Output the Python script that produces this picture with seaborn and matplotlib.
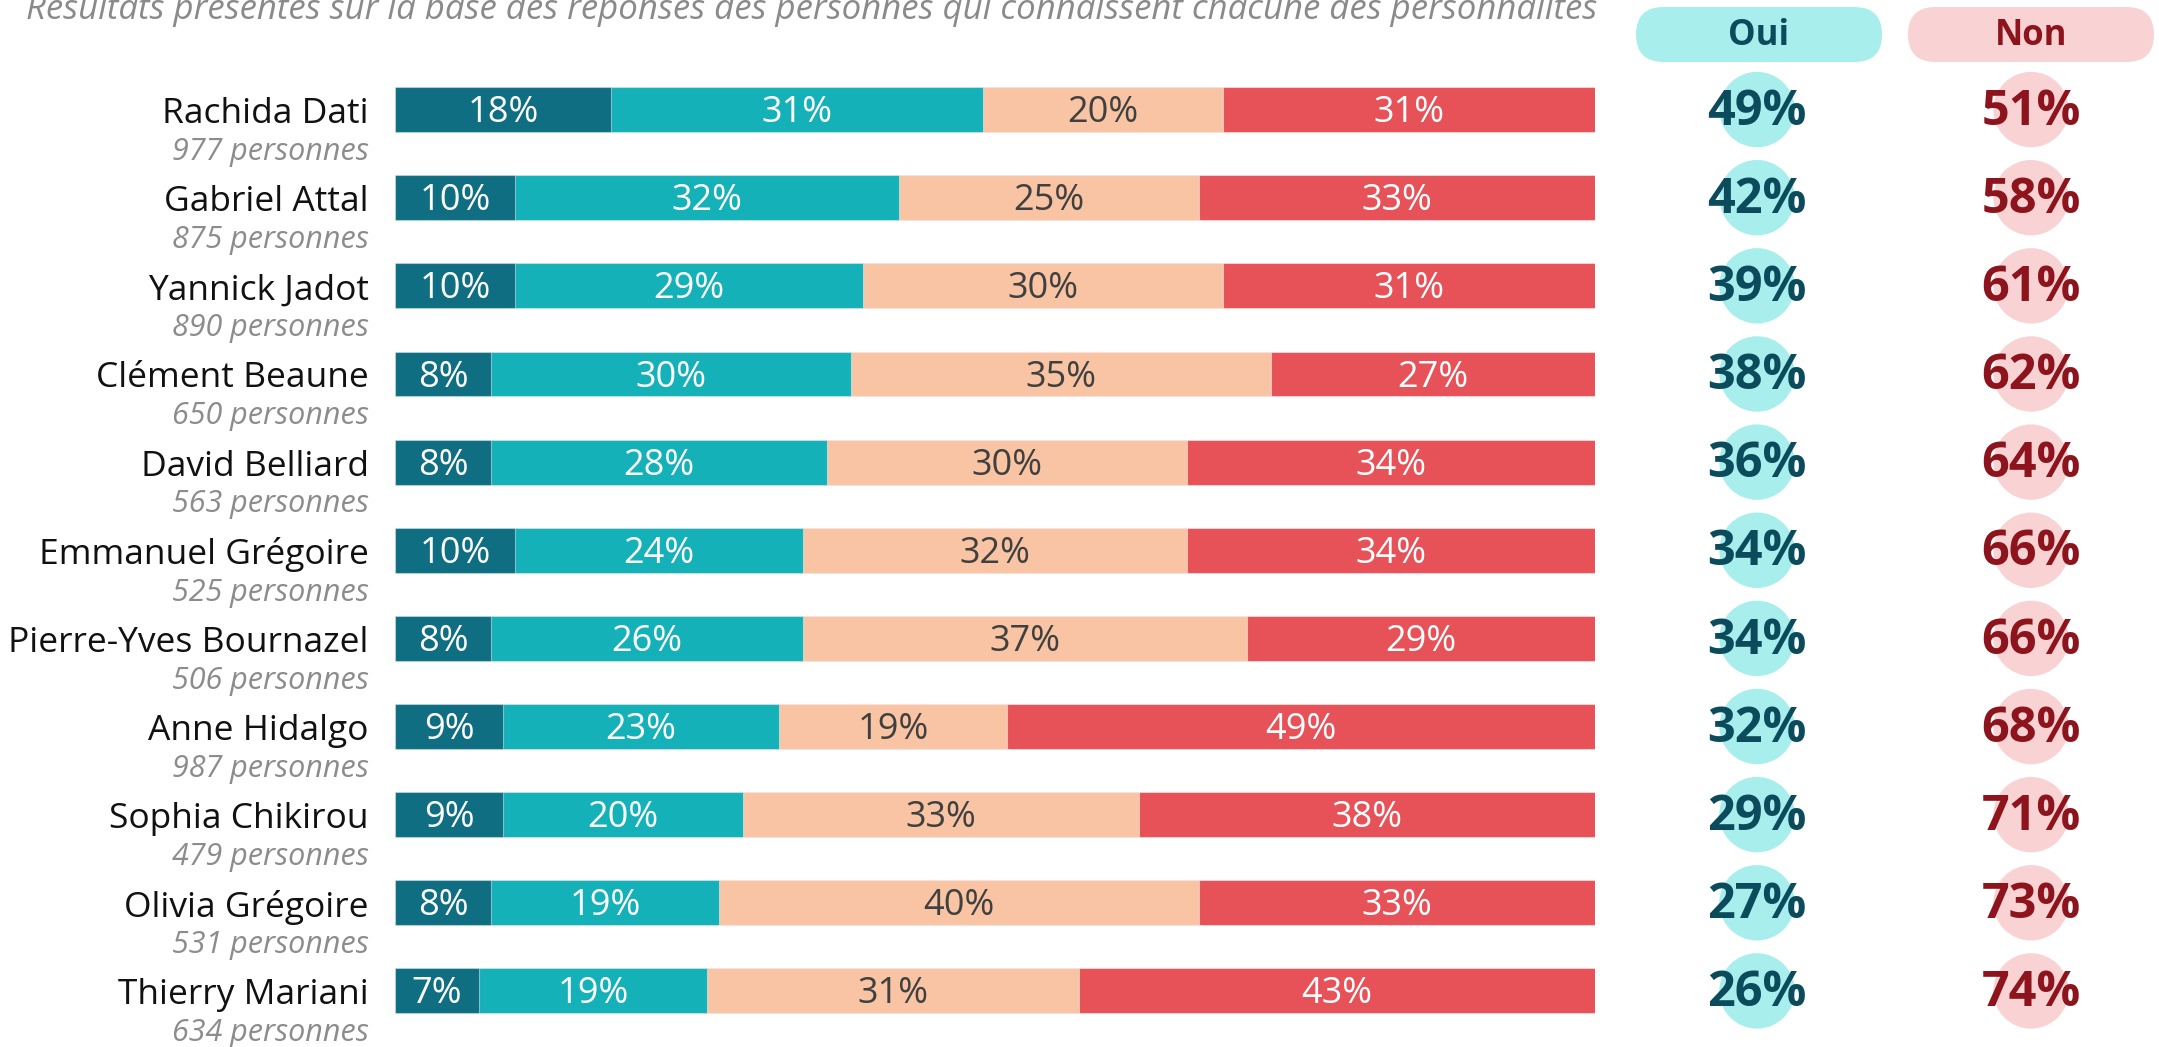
import numpy as np
import pandas as pd
import matplotlib
matplotlib.use('Agg')
import matplotlib.pyplot as plt
from matplotlib.patches import FancyBboxPatch
import seaborn as sns

# Data
names = ['Rachida Dati', 'Gabriel Attal', 'Yannick Jadot', 'Clément Beaune',
         'David Belliard', 'Emmanuel Grégoire', 'Pierre-Yves Bournazel',
         'Anne Hidalgo', 'Sophia Chikirou', 'Olivia Grégoire', 'Thierry Mariani']
samples = [977, 875, 890, 650, 563, 525, 506, 987, 479, 531, 634]
tout_a_fait = [18, 10, 10, 8, 8, 10, 8, 9, 9, 8, 7]
plutot = [31, 32, 29, 30, 28, 24, 26, 23, 20, 19, 19]
plutot_pas = [20, 25, 30, 35, 30, 32, 37, 19, 33, 40, 31]
pas_du_tout = [31, 33, 31, 27, 34, 34, 29, 49, 38, 33, 43]
oui = [49, 42, 39, 38, 36, 34, 34, 32, 29, 27, 26]
non = [51, 58, 61, 62, 64, 66, 66, 68, 71, 73, 74]
subtitle = "Résultats présentés sur la base des réponses des personnes qui connaissent chacune des personnalités"

seg_colors = ['#106e82', '#14b1b9', '#f8c4a4', '#e75158']
seg_text = ['white', 'white', '#404040', 'white']
OUI_BG, OUI_FG = '#a8eeed', '#0b4b5b'
NON_BG, NON_FG = '#f9d3d4', '#8d141c'

sns.set_style('white')
plt.rcParams['font.family'] = ['Open Sans', 'DejaVu Sans']

W, H = 2159, 1047
fig = plt.figure(figsize=(W / 100, H / 100), dpi=100)

# overlay axes in pixel units for header text and pills
ax0 = fig.add_axes([0, 0, 1, 1])
ax0.set_xlim(0, W)
ax0.set_ylim(H, 0)
ax0.axis('off')
ax0.text(1597, 19, subtitle, ha='right', va='baseline', style='italic',
         color='#8a8a8a', fontsize=25)
for x0, lab, bg, fg in [(1636, 'Oui', OUI_BG, OUI_FG), (1908, 'Non', NON_BG, NON_FG)]:
    ax0.add_patch(FancyBboxPatch((x0, 7), 246, 55,
                                 boxstyle='round,pad=0,rounding_size=27.5',
                                 facecolor=bg, edgecolor='none'))
    ax0.text(x0 + 123, 36, lab, ha='center', va='center', fontsize=25,
             fontweight='bold', color=fg)

# bar axes
n = len(names)
top_px, bot_px = 65.5, 1035
bottom = 1 - bot_px / H
height = (bot_px - top_px) / H
ax = fig.add_axes([395 / W, bottom, 1200 / W, height])

segs = np.array([tout_a_fait, plutot, plutot_pas, pas_du_tout], dtype=float)
cum = segs.cumsum(axis=0)
df = pd.DataFrame({'name': names})
for k in range(3, -1, -1):
    df['v'] = cum[k]
    sns.barplot(data=df, x='v', y='name', orient='h', color=seg_colors[k],
                width=0.51, errorbar=None, ax=ax, saturation=1,
                edgecolor=(1, 1, 1, 0.45), linewidth=0.8)

ax.set_xlim(0, 100)
ax.set_ylim(n - 0.5, -0.5)
ax.axis('off')

for i in range(n):
    left = 0
    for k in range(4):
        w = segs[k, i]
        ax.text(left + w / 2, i + 0.04, f"{int(w)}%", ha='center', va='center',
                fontsize=26, color=seg_text[k])
        left += w
    ax.text(-2.2, i + 0.05, names[i], ha='right', va='center', fontsize=25.5,
            color='#111111', clip_on=False)
    ax.text(-2.2, i + 0.48, f"{samples[i]} personnes", ha='right', va='center',
            fontsize=22, style='italic', color='#8c8c8c', clip_on=False)

# Oui / Non circles
ax2 = fig.add_axes([1620 / W, bottom, (W - 1620) / W, height])
circ = pd.DataFrame({'xi': [0] * n + [1] * n,
                     'y': list(range(n)) * 2,
                     'col': ['Oui'] * n + ['Non'] * n,
                     'val': oui + non})
sns.scatterplot(data=circ, x='xi', y='y', hue='col',
                palette={'Oui': OUI_BG, 'Non': NON_BG}, s=2950, linewidth=0,
                legend=False, ax=ax2)
for _, r in circ.iterrows():
    ax2.text(r['xi'], r['y'] + 0.03, f"{r['val']}%", ha='center', va='center',
             fontsize=35, fontweight='bold',
             color=OUI_FG if r['col'] == 'Oui' else NON_FG)
ax2.set_xlim(-0.5, 1.467)
ax2.set_ylim(n - 0.5, -0.5)
ax2.axis('off')

fig.savefig('out.png', dpi=100)
